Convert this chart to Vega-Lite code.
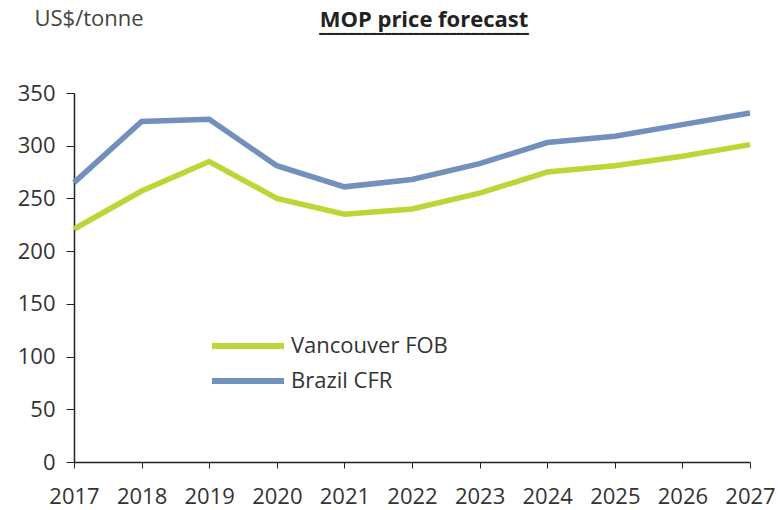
{
  "$schema": "https://vega.github.io/schema/vega-lite/v6.json",
  "autosize": "none",
  "width": 676,
  "height": 369,
  "padding": {"left": 74, "top": 93, "right": 28, "bottom": 48},
  "background": "white",
  "config": {
    "font": "Open Sans",
    "view": {"stroke": null}
  },
  "title": {
    "text": "MOP price forecast",
    "subtitle": "━━━━━━━━━━━━━━━━━━━━━━━━━━━━━",
    "font": "Open Sans",
    "subtitleFont": "DejaVu Sans",
    "subtitleFontSize": 12,
    "subtitleColor": "#222",
    "subtitlePadding": -3,
    "anchor": "middle",
    "fontSize": 22,
    "fontWeight": "bold",
    "color": "#222",
    "offset": 0,
    "dy": 34,
    "dx": 12
  },
  "data": {
    "values": [
      {"year": 2017, "series": "Vancouver FOB", "price": 221},
      {"year": 2018, "series": "Vancouver FOB", "price": 257},
      {"year": 2019, "series": "Vancouver FOB", "price": 285},
      {"year": 2020, "series": "Vancouver FOB", "price": 250},
      {"year": 2021, "series": "Vancouver FOB", "price": 235},
      {"year": 2022, "series": "Vancouver FOB", "price": 240},
      {"year": 2023, "series": "Vancouver FOB", "price": 255},
      {"year": 2024, "series": "Vancouver FOB", "price": 275},
      {"year": 2025, "series": "Vancouver FOB", "price": 281},
      {"year": 2026, "series": "Vancouver FOB", "price": 290},
      {"year": 2027, "series": "Vancouver FOB", "price": 301},
      {"year": 2017, "series": "Brazil CFR", "price": 265},
      {"year": 2018, "series": "Brazil CFR", "price": 323},
      {"year": 2019, "series": "Brazil CFR", "price": 325},
      {"year": 2020, "series": "Brazil CFR", "price": 281},
      {"year": 2021, "series": "Brazil CFR", "price": 261},
      {"year": 2022, "series": "Brazil CFR", "price": 268},
      {"year": 2023, "series": "Brazil CFR", "price": 283},
      {"year": 2024, "series": "Brazil CFR", "price": 303},
      {"year": 2025, "series": "Brazil CFR", "price": 309},
      {"year": 2026, "series": "Brazil CFR", "price": 320},
      {"year": 2027, "series": "Brazil CFR", "price": 331}
    ]
  },
  "mark": {"type": "line", "strokeWidth": 5.5, "strokeJoin": "miter"},
  "encoding": {
    "x": {
      "field": "year",
      "type": "quantitative",
      "scale": {"domain": [2017, 2027], "nice": false, "zero": false},
      "axis": {
        "values": [2017, 2018, 2019, 2020, 2021, 2022, 2023, 2024, 2025, 2026, 2027],
        "format": "d",
        "title": null,
        "grid": false,
        "domainColor": "#222",
        "domainWidth": 1.5,
        "tickColor": "#222",
        "tickSize": 6,
        "labelFontSize": 22,
        "labelColor": "#333",
        "labelPadding": 18,
        "labelFlush": false
      }
    },
    "y": {
      "field": "price",
      "type": "quantitative",
      "scale": {"domain": [0, 350], "nice": false},
      "axis": {
        "values": [0, 50, 100, 150, 200, 250, 300, 350],
        "title": "US$/tonne",
        "titleAngle": 0,
        "titleAlign": "left",
        "titleBaseline": "middle",
        "titleX": -40,
        "titleY": -75,
        "titleFontSize": 22,
        "titleFontWeight": "normal",
        "titleColor": "#444",
        "grid": false,
        "domainColor": "#222",
        "domainWidth": 1.5,
        "tickColor": "#222",
        "tickSize": 8,
        "labelFontSize": 22,
        "labelColor": "#333",
        "labelPadding": 11
      }
    },
    "color": {
      "field": "series",
      "type": "nominal",
      "scale": {"domain": ["Vancouver FOB", "Brazil CFR"], "range": ["#bcd635", "#7190bb"]},
      "legend": {
        "title": null,
        "orient": "none",
        "legendX": 162,
        "legendY": 241,
        "symbolType": "M-4,0H4",
        "symbolSize": 324,
        "symbolStrokeWidth": 6,
        "labelFontSize": 22,
        "labelColor": "#333",
        "rowPadding": 11,
        "labelOffset": 31
      }
    }
  }
}
